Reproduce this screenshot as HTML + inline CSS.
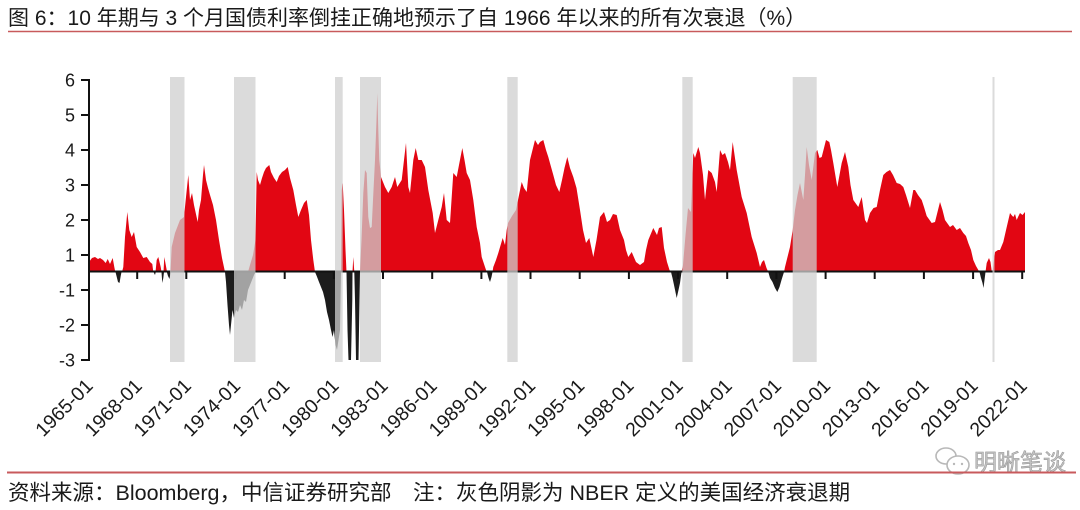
<!DOCTYPE html>
<html>
<head>
<meta charset="utf-8">
<style>
  html,body{margin:0;padding:0;background:#fff;}
  svg{display:block;}
  .t{font-family:"Liberation Sans","Noto Sans CJK SC",sans-serif;fill:#1a1a1a;}
</style>
</head>
<body>
<svg width="1080" height="510" viewBox="0 0 1080 510" xmlns="http://www.w3.org/2000/svg">
  <rect x="0" y="0" width="1080" height="510" fill="#fff"/>

  <!-- Title -->
  <text class="t" x="8" y="25" font-size="21">图 6：10 年期与 3 个月国债利率倒挂正确地预示了自 1966 年以来的所有次衰退（%）</text>
  <line x1="8" y1="31.5" x2="1072" y2="31.5" stroke="#c85a5c" stroke-width="1.6"/>

  <!-- Red (positive) area -->
  <polygon fill="#e20613" points="
89,272 89,262 92,258 95,257 98,259 100,258 103,260 105.7,263 107.7,259 110,264 112.7,258 114.3,267 115.3,272 122,272 123.3,267 125,237 127.3,212 129.3,230 131.7,237 134,232 136.7,247 140,252 143.3,258 146.7,257 150,262 152.3,264 153.3,272 155.5,272 156.7,260 158.3,257 160.7,267 161.5,272 163.5,272 164.3,257 166.7,270 167,272 170.5,272 171.7,247 175,233 180,220 184,217 185.7,200 188.3,175 190,200 192,193 194,205 197.7,222 199,210 201,200 203,175 204,165 206,180 208,188 210,195 213,205 216,220 219,240 222,258 225,272
248,272 250,265 253,255 255.5,240 256.7,172 258,180 260,185 262,178 264,172 266,168 269.3,165 271,172 274,178 276.7,182 279,176 282,172 285,170 287.7,167 290,178 293.3,190 296,205 298.3,217 301,210 304,203 306.7,200 309,215 311,240 313.3,260 315,272
341,272 341.7,190 342.7,183 344,210 345.5,250 346.5,272 352.5,272 353.3,257 354.3,272 360,272 361.5,240 363.3,193 365,170 366.7,173 368.3,217 370,228 371.7,227 373.5,190 375,160 376.5,120 377.3,93 378.3,130 379.3,160 381,177 385,187 388.3,193 391.7,187 395,177 397.3,187 401.7,180 404,160 406,143 408.3,187 410,193 413.3,160 415.7,148 418.3,160 421.7,160 425,167 428.3,190 432.7,213 435,233 438.3,220 441.7,207 444,193 446.7,220 450,223 453.3,173 456.7,177 459,165 462.3,148 464.5,160 466.7,173 470,180 473.3,200 476.7,227 480,243 481.7,257 485,267 486.7,272
492.5,272 493.3,267 496,260 498.3,253 502.7,238 505,245 506.7,230 508,223 512,216 516,210 518,200 521.7,182 524,188 526.7,192 530,160 533,148 535,140 538,145 540,142 543.3,140 546,150 548.3,157 550.5,165 553.3,175 556,185 559.3,192 562,180 564.5,168 567.3,157 570,168 573.3,177 576.5,188 580,210 583,230 586,243 589.3,238 593.3,257 596.5,240 600,217 604,212 607,222 610,220 613,214 616.7,215 620,230 624,240 626,250 628.3,257 631.7,252 636,262 640,265 644,262 646,250 648.3,240 653.3,228 657,235 659,228 661.7,227 664,248 667,262 669.5,270 671,272
681.5,272 683,265 685.5,235 688,208 691,212 693.3,153 695,158 698.3,147 700,153 703,175 705,200 708.3,170 711.7,173 715,182 716.7,192 720,150 722.5,155 725,153 728,162 730,170 732.7,142 736.7,170 741.7,197 746.7,213 751.7,237 756.7,253 760,267 762,262 764,260 766.5,268 768.3,272
784,272 785,267 788,255 790,247 792.7,230 795,210 797.5,195 800,183 803.3,200 805,175 806.7,147 809,165 811.7,180 815,153 817.3,150 819.5,158 821.7,157 824,148 826,140 829.3,142 831,150 833.3,163 837.3,187 839.5,175 841.7,163 845,152 848.3,167 850.5,185 853.3,200 858.3,207 861.7,197 865,220 867,223 870,213 873.5,208 876.7,207 880,190 883.3,175 886.5,172 890,170 893,175 896.7,183 900,184 903.3,187 906,195 910,208 913.3,190 915,190 918,195 921.7,200 924,207 926.7,216 931.7,223 935,222 938,210 940,202 942.5,210 945,220 950,227 953,225 956.7,230 960,228 963.3,233 966,236 968.3,243 971,250 973.3,260 976,266 978.3,270 979.5,272
985.5,272 986.7,263 989,258 990.5,262 991.7,271 992.5,272 994,260 995,252 998,250 1000,250 1003.3,242 1006.5,228 1010,213 1011.5,215 1013.3,217 1015,214 1016.7,220 1018.5,216 1020,213 1022.5,215 1025,212 1025,272"/>

  <!-- Black (negative) area -->
  <polygon fill="#1c1c1c" points="
89,272 115.5,272 116.5,276 118,282 119.5,283 120.7,276 121.5,272 153.5,272 155,275 155.8,272 161.5,272 162.3,283 163.3,278 164,272 166.8,272 168,276 169.5,279 170.7,272
225,272 226,282 227.5,305 229,325 230,335 231,325 232.5,310 234,318 236,310 238,312 240,305 242,310 244,300 246,302 248,290 250,285 252,280 254,275 255.5,272
315,272 316.7,276 319,282 321,287 323,292 325,300 327,312 329,320 331,330 332.5,337 334,330 335.5,345 337,350 338.5,340 340,330 341,272
346.5,272 347.5,330 348.5,360 351,360 352.3,300 352.5,272 354.3,272 355,300 356,360 358.5,360 359.5,300 360,272
487,272 488.5,278 490,282 491.5,277 492.5,272
671,272 672.5,278 674,285 676.7,298 678.5,290 680,283 681.5,272
768.3,272 770,278 772.5,282 775,288 777.3,292 779.5,287 781.5,280 784,272
979.5,272 981,278 982.5,283 983.5,288 984.5,280 985.5,272 1025,272"/>

  <!-- X axis line -->
  <line x1="88" y1="271.5" x2="1025" y2="271.5" stroke="#111" stroke-width="2"/>
  <!-- X ticks -->
  <g stroke="#111" stroke-width="2">
    <line x1="137.2" y1="271" x2="137.2" y2="279"/>
    <line x1="186.3" y1="271" x2="186.3" y2="279"/>
    <line x1="235.5" y1="271" x2="235.5" y2="279"/>
    <line x1="284.7" y1="271" x2="284.7" y2="279"/>
    <line x1="333.9" y1="271" x2="333.9" y2="279"/>
    <line x1="383" y1="271" x2="383" y2="279"/>
    <line x1="432.2" y1="271" x2="432.2" y2="279"/>
    <line x1="481.4" y1="271" x2="481.4" y2="279"/>
    <line x1="530.5" y1="271" x2="530.5" y2="279"/>
    <line x1="579.7" y1="271" x2="579.7" y2="279"/>
    <line x1="628.9" y1="271" x2="628.9" y2="279"/>
    <line x1="678" y1="271" x2="678" y2="279"/>
    <line x1="727.2" y1="271" x2="727.2" y2="279"/>
    <line x1="776.4" y1="271" x2="776.4" y2="279"/>
    <line x1="825.6" y1="271" x2="825.6" y2="279"/>
    <line x1="874.7" y1="271" x2="874.7" y2="279"/>
    <line x1="923.9" y1="271" x2="923.9" y2="279"/>
    <line x1="973.1" y1="271" x2="973.1" y2="279"/>
    <line x1="1022.2" y1="271" x2="1022.2" y2="279"/>
  </g>

  <!-- Recession bands -->
  <g fill="#cfcfcf" fill-opacity="0.75">
    <rect x="170" y="77" width="14.5" height="285"/>
    <rect x="234" y="77" width="21.5" height="285"/>
    <rect x="335" y="77" width="7.7" height="285"/>
    <rect x="360" y="77" width="21" height="285"/>
    <rect x="507.3" y="77" width="10.4" height="285"/>
    <rect x="682.3" y="77" width="10.4" height="285"/>
    <rect x="792.7" y="77" width="24" height="285"/>
    <rect x="992.5" y="77" width="2" height="285"/>
  </g>

  <!-- Y axis -->
  <line x1="89" y1="79" x2="89" y2="361" stroke="#111" stroke-width="2"/>
  <g stroke="#111" stroke-width="2">
    <line x1="81" y1="80" x2="89" y2="80"/>
    <line x1="81" y1="115" x2="89" y2="115"/>
    <line x1="81" y1="150" x2="89" y2="150"/>
    <line x1="81" y1="185" x2="89" y2="185"/>
    <line x1="81" y1="220" x2="89" y2="220"/>
    <line x1="81" y1="255" x2="89" y2="255"/>
    <line x1="81" y1="290" x2="89" y2="290"/>
    <line x1="81" y1="325" x2="89" y2="325"/>
    <line x1="81" y1="360" x2="89" y2="360"/>
  </g>
  <g class="t" font-size="18" text-anchor="end">
    <text x="75" y="86.5">6</text>
    <text x="75" y="121.5">5</text>
    <text x="75" y="156.5">4</text>
    <text x="75" y="191.5">3</text>
    <text x="75" y="226.5">2</text>
    <text x="75" y="261.5">1</text>
    <text x="75" y="296.5">-1</text>
    <text x="75" y="331.5">-2</text>
    <text x="75" y="366.5">-3</text>
  </g>

  <!-- X labels -->
  <g class="t" font-size="19.5" text-anchor="end">
    <text x="94" y="387" transform="rotate(-45 94 387)">1965-01</text>
    <text x="143.2" y="387" transform="rotate(-45 143.2 387)">1968-01</text>
    <text x="192.3" y="387" transform="rotate(-45 192.3 387)">1971-01</text>
    <text x="241.5" y="387" transform="rotate(-45 241.5 387)">1974-01</text>
    <text x="290.7" y="387" transform="rotate(-45 290.7 387)">1977-01</text>
    <text x="339.9" y="387" transform="rotate(-45 339.9 387)">1980-01</text>
    <text x="389" y="387" transform="rotate(-45 389 387)">1983-01</text>
    <text x="438.2" y="387" transform="rotate(-45 438.2 387)">1986-01</text>
    <text x="487.4" y="387" transform="rotate(-45 487.4 387)">1989-01</text>
    <text x="536.5" y="387" transform="rotate(-45 536.5 387)">1992-01</text>
    <text x="585.7" y="387" transform="rotate(-45 585.7 387)">1995-01</text>
    <text x="634.9" y="387" transform="rotate(-45 634.9 387)">1998-01</text>
    <text x="684" y="387" transform="rotate(-45 684 387)">2001-01</text>
    <text x="733.2" y="387" transform="rotate(-45 733.2 387)">2004-01</text>
    <text x="782.4" y="387" transform="rotate(-45 782.4 387)">2007-01</text>
    <text x="831.6" y="387" transform="rotate(-45 831.6 387)">2010-01</text>
    <text x="880.7" y="387" transform="rotate(-45 880.7 387)">2013-01</text>
    <text x="929.9" y="387" transform="rotate(-45 929.9 387)">2016-01</text>
    <text x="979.1" y="387" transform="rotate(-45 979.1 387)">2019-01</text>
    <text x="1028.2" y="387" transform="rotate(-45 1028.2 387)">2022-01</text>
  </g>

  <!-- Watermark -->
  <g fill="none" stroke="#b8b8b8" stroke-width="1.6">
    <ellipse cx="946" cy="456" rx="10" ry="8"/>
    <ellipse cx="958" cy="465" rx="11" ry="9" fill="#fff"/>
  </g>
  <g fill="#b8b8b8">
    <circle cx="954" cy="464" r="1.2"/>
    <circle cx="962" cy="464" r="1.2"/>
  </g>
  <text x="974" y="470" font-size="23" font-family="'Liberation Sans','Noto Sans CJK SC',sans-serif" fill="#c4c4c4" stroke="#9a9a9a" stroke-width="0.6">明晰笔谈</text>

  <!-- Footer -->
  <line x1="7" y1="472.5" x2="1076" y2="472.5" stroke="#c85a5c" stroke-width="2"/>
  <text class="t" x="8" y="500" font-size="21.5">资料来源：Bloomberg，中信证券研究部　注：灰色阴影为 NBER 定义的美国经济衰退期</text>
</svg>
</body>
</html>
